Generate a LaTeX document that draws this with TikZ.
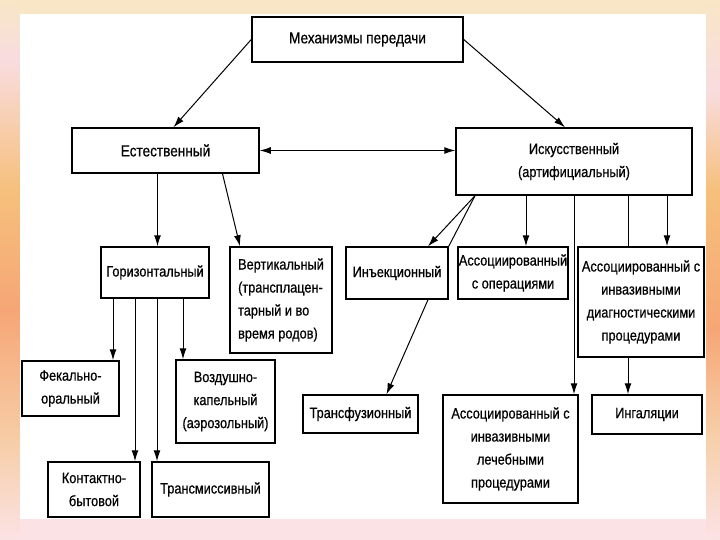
\documentclass[tikz,border=0pt]{standalone}
\usepackage{fontspec}
\setmainfont{Liberation Sans}[FakeStretch=0.85, FakeBold=0.6]
\usetikzlibrary{arrows.meta}

\definecolor{fcream}{HTML}{F8E6C6}
\definecolor{fpink}{HTML}{F8DCDF}
\definecolor{forange}{HTML}{F6C07C}
\definecolor{fsalmon}{HTML}{F6A676}
\definecolor{fpeach}{HTML}{F6CDA6}
\definecolor{fbottom}{HTML}{FBE2E4}

\begin{document}
\begin{tikzpicture}[
  x=1pt, y=-1pt,
  box/.style = {draw, rectangle, fill=white, line width=1.5pt, align=center, inner sep=1pt, font=\fontsize{15}{23}\selectfont},
  big/.style = {font=\fontsize{16}{24}\selectfont},
  arr/.style = {line width=1pt, -{Latex[length=11pt,width=7pt]}},
  dbl/.style = {line width=1pt, {Latex[length=11pt,width=7pt]}-{Latex[length=11pt,width=7pt]}},
  link/.style = {line width=1pt}
]
  \useasboundingbox (0,0) rectangle (720,540);

  % frame
  \fill[fcream] (0,0) rectangle (720,540);
  \fill[fbottom] (0,519) rectangle (720,540);
  \shade[top color=fcream, bottom color=fpink] (0,0) rectangle (20,60);
  \shade[top color=fpink, bottom color=forange] (0,60) rectangle (20,190);
  \shade[top color=forange, bottom color=fsalmon] (0,190) rectangle (20,310);
  \shade[top color=fsalmon, bottom color=fpeach] (0,310) rectangle (20,440);
  \shade[top color=fpeach, bottom color=fbottom] (0,440) rectangle (20,540);
  \shade[top color=fcream, bottom color=fpink] (706,0) rectangle (720,90);
  \shade[top color=fpink, bottom color=forange] (706,90) rectangle (720,190);
  \shade[top color=forange, bottom color=fsalmon] (706,190) rectangle (720,330);
  \shade[top color=fsalmon, bottom color=fpeach] (706,330) rectangle (720,430);
  \shade[top color=fpeach, bottom color=fbottom] (706,430) rectangle (720,540);
  \fill[white] (20,14) rectangle (706,519);

  \node[box, big, minimum width=211pt, minimum height=45pt] (mech) at (357.5,39.5) {Механизмы передачи};
  \node[box, big, minimum width=187pt, minimum height=45pt] (nat) at (165.5,150.5) {Естественный};
  \node[box, minimum width=236pt, minimum height=67pt] (art) at (574,161.5) {Искусственный\\(артифициальный)};

  \node[box, minimum width=108pt, minimum height=51pt] (hor) at (155,272.5) {Горизонтальный};
  \node[box, align=left, minimum width=102pt, minimum height=106pt] (vert) at (281,300) {Вертикальный\\(трансплацен-\\тарный и во\\время родов)};
  \node[box, minimum width=97pt, minimum height=55pt] (fecal) at (70.5,388.5) {Фекально-\\оральный};
  \node[box, minimum width=99pt, minimum height=83pt] (air) at (225.5,401.5) {Воздушно-\\капельный\\(аэрозольный)};
  \node[box, minimum width=92pt, minimum height=55pt] (contact) at (94,489.5) {Контактно-\\бытовой};
  \node[box, minimum width=117pt, minimum height=55pt] (transm) at (210.5,489.5) {Трансмиссивный};

  \node[box, minimum width=102pt, minimum height=52pt] (inj) at (397,273) {Инъекционный};
  \node[box, minimum width=108pt, minimum height=52pt] (oper) at (513,273) {Ассоциированный\\с операциями};
  \node[box, minimum width=126pt, minimum height=110pt] (diag) at (641,302) {Ассоциированный с\\инвазивными\\диагностическими\\процедурами};
  \node[box, minimum width=115pt, minimum height=38pt] (transf) at (360.5,414) {Трансфузионный};
  \node[box, minimum width=135pt, minimum height=108pt] (cure) at (510.5,449) {Ассоциированный с\\инвазивными\\лечебными\\процедурами};
  \node[box, minimum width=110pt, minimum height=39pt] (inhal) at (647,414.5) {Ингаляции};

  % top level
  \draw[arr] (mech.west) -- ([xshift=8pt]nat.north);
  \draw[arr] (mech.east) -- ([xshift=-9pt]art.north);
  \draw[dbl] (nat.east) -- (nat.east -| art.west);

  % natural branch
  \draw[arr] ([xshift=-8pt]nat.south) -- ([xshift=-8pt]nat.south |- hor.north);
  \draw[arr] ([xshift=57pt]nat.south) -- ([xshift=-41pt]vert.north);
  \draw[arr] ([xshift=-42pt]hor.south) -- ([xshift=-42pt]hor.south |- fecal.north);
  \draw[arr] ([xshift=-20pt]hor.south) -- ([xshift=-20pt]hor.south |- contact.north);
  \draw[arr] ([xshift=2pt]hor.south) -- ([xshift=2pt]hor.south |- transm.north);
  \draw[arr] ([xshift=28pt]hor.south) -- ([xshift=28pt]hor.south |- air.north);

  % artificial branch
  \draw[arr] ([xshift=-99pt]art.south) -- ([xshift=31pt]inj.north);
  \draw[link] ([xshift=-99pt]art.south) -- (inj.north east);
  \draw[arr] ([xshift=31pt]inj.south) -- ([xshift=26pt]transf.north);
  \draw[arr] ([xshift=-48pt]art.south) -- ([xshift=-48pt]art.south |- oper.north);
  \draw[arr] (art.south) -- (art.south |- cure.north);
  \draw[link] ([xshift=54pt]art.south) -- ([xshift=54pt]art.south |- diag.north);
  \draw[arr] ([xshift=54pt]art.south |- diag.south) -- ([xshift=54pt]art.south |- inhal.north);
  \draw[arr] ([xshift=93pt]art.south) -- ([xshift=93pt]art.south |- diag.north);
\end{tikzpicture}
\end{document}
